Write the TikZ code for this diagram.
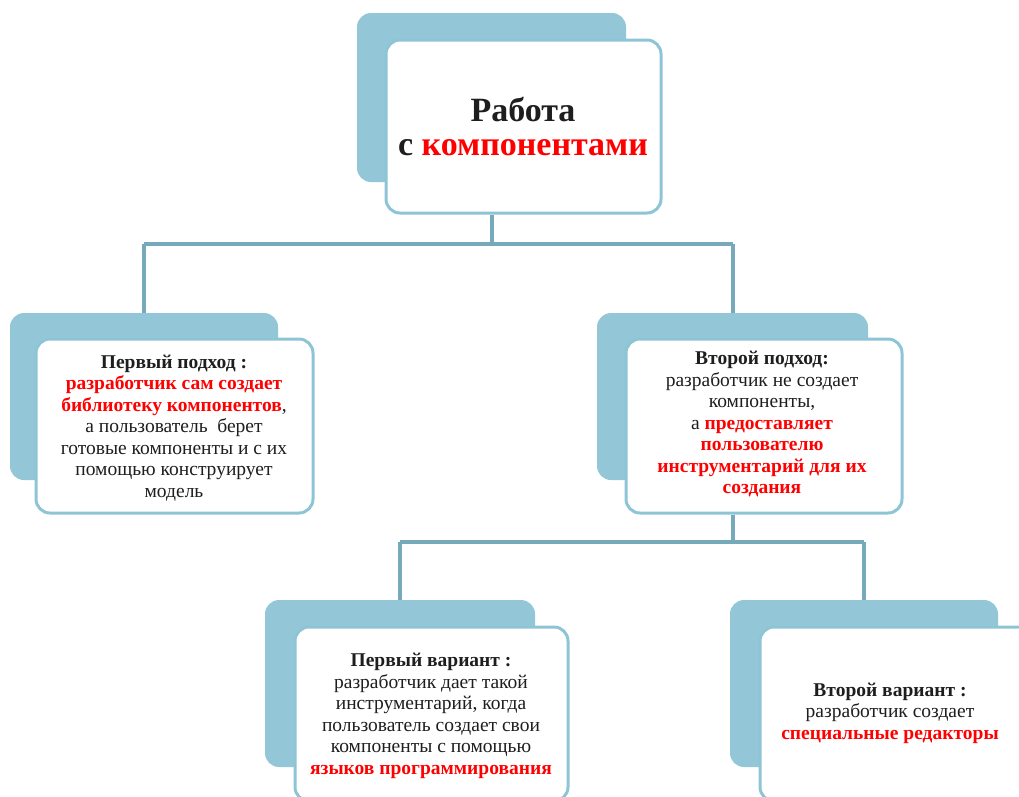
\documentclass[tikz,border=0pt]{standalone}
\usepackage{fontspec}
\usetikzlibrary{calc}
\setmainfont{Liberation Serif}
\definecolor{backblue}{HTML}{93C7D8}
\definecolor{edgeblue}{HTML}{8EC5D6}
\definecolor{linkblue}{HTML}{76A9BA}
\definecolor{txt}{HTML}{1E1E1E}
\definecolor{hl}{HTML}{FF0000}
\newcommand{\hlt}[1]{\textcolor{hl}{\textbf{#1}}}
\tikzset{
  backbox/.style={fill=backblue, draw=none, rounded corners=14pt, inner sep=0pt},
  frontbox/.style={fill=white, draw=edgeblue, line width=3pt, rounded corners=14pt, inner sep=0pt},
  bodytext/.style={text=txt, align=center, inner sep=0pt, font=\fontsize{19.5}{21.5}\selectfont},
  titletext/.style={text=txt, align=center, inner sep=0pt, font=\fontsize{34}{34}\selectfont\bfseries},
  link/.style={draw=linkblue, line width=4pt}
}
\begin{document}
\begin{tikzpicture}[x=1pt,y=-1pt]
\useasboundingbox (0,0) rectangle (1019,796);
\clip (0,0) rectangle (1019,796);
% top
\node[backbox, minimum width=269pt, minimum height=169pt] (topback) at (491.5,97.5) {};
\node[frontbox, minimum width=275pt, minimum height=173pt] (topfront) at (523.5,126.5) {};
\node[titletext] (toptext) at (523,126) {Работа\\[0pt] с \textcolor{hl}{компонентами}};
% middle left
\node[backbox, minimum width=268pt, minimum height=167pt] (lback) at (144,396.5) {};
\node[frontbox, minimum width=277pt, minimum height=174pt] (lfront) at (174.5,426) {};
\node[bodytext] (ltext) at (174,428) {\textbf{Первый подход :}\\
\hlt{разработчик сам создает}\\
\hlt{библиотеку компонентов},\\
а пользователь\ \ берет\\
готовые компоненты и с их\\
помощью конструирует\\
модель};
% middle right
\node[backbox, minimum width=271pt, minimum height=167pt] (rback) at (732.5,396.5) {};
\node[frontbox, minimum width=276pt, minimum height=174pt] (rfront) at (764,426) {};
\node[bodytext] (rtext) at (762,424) {\textbf{Второй подход:}\\
разработчик не создает\\
компоненты,\\
а \hlt{предоставляет}\\
\hlt{пользователю}\\
\hlt{инструментарий для их}\\
\hlt{создания}};
% bottom left
\node[backbox, minimum width=270pt, minimum height=167pt] (blback) at (400,683.5) {};
\node[frontbox, minimum width=273pt, minimum height=174pt] (blfront) at (431.5,714) {};
\node[bodytext] (bltext) at (431,716) {\textbf{Первый вариант :}\\
разработчик дает такой\\
инструментарий, когда\\
пользователь создает свои\\
компоненты с помощью\\
\hlt{языков программирования}};
% bottom right
\node[backbox, minimum width=268pt, minimum height=167pt] (brback) at (864,683.5) {};
\node[frontbox, minimum width=275pt, minimum height=174pt] (brfront) at (897.5,714) {};
\node[bodytext] (brtext) at (890,713) {\textbf{Второй вариант :}\\
разработчик создает\\
\hlt{специальные редакторы}};
% connectors
\coordinate (j1) at ($(topback.south |- topfront.south)+(0,29)$);
\draw[link] (topback.south |- topfront.south) -- (j1);
\draw[link] (lback.north |- j1) -- (rback.north |- j1);
\draw[link] (lback.north |- j1) -- (lback.north);
\draw[link] (rback.north |- j1) -- (rback.north);
\coordinate (j2) at ($(rback.south |- rfront.south)+(0,27)$);
\draw[link] (rback.south |- rfront.south) -- (j2);
\draw[link] (blback.north |- j2) -- (brback.north |- j2);
\draw[link] (blback.north |- j2) -- (blback.north);
\draw[link] (brback.north |- j2) -- (brback.north);
\end{tikzpicture}
\end{document}
